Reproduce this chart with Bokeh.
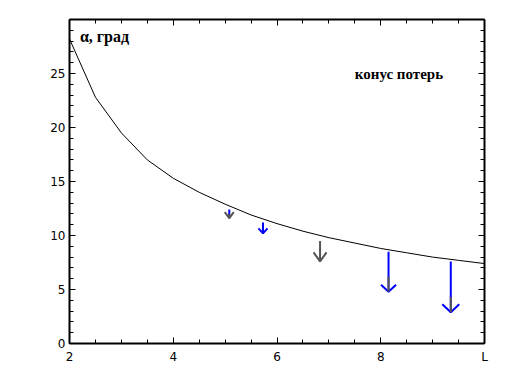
import numpy as np
from bokeh.plotting import figure
from bokeh.models import (ColumnDataSource, LinearAxis, FixedTicker, Range1d, Label)
from bokeh.embed import file_html
from bokeh.resources import INLINE

# Loss-cone curve (L, alpha in degrees)
L_curve = [2.0, 2.5, 3.0, 3.5, 4.0, 4.5, 5.0, 5.5, 6.0, 6.5, 7.0, 7.5, 8.0, 8.5, 9.0, 9.5, 10.0]
alpha_curve = [28.2, 22.8, 19.5, 17.0, 15.3, 14.0, 12.9, 11.9, 11.1, 10.4, 9.8, 9.3, 8.8, 8.4, 8.0, 7.7, 7.4]

# Arrows: L position, start (top) and end (tip) alpha
arrow_L = [5.08, 5.73, 6.83, 8.15, 9.35]
arrow_top = [12.4, 11.2, 9.5, 8.5, 7.6]
arrow_tip = [11.6, 10.2, 7.6, 4.8, 2.9]
# gray overlay on lower part of some arrows
gray_L = [5.08, 8.15, 9.35]
gray_top = [12.0, 6.2, 4.3]
gray_tip = [11.6, 4.8, 2.9]

x_major = [2, 4, 6, 8, 10]
x_minor = list(np.arange(2, 10.01, 0.5))
x_labels = {10: "L"}
y_major = [0, 5, 10, 15, 20, 25]
y_minor = list(range(0, 31))

# styles (not data)
shaft_color = ["#0000ff", "#0000ff", "#555555", "#0000ff", "#0000ff"]
head_color = ["#555555", "#0000ff", "#555555", "#0000ff", "#0000ff"]
head_half_w_px = [4.5, 4.5, 6.5, 7.5, 8.5]
head_h_px = [6, 5, 9, 7, 8]

W, H = 514, 369
X0, X1, Y0, Y1 = 2, 10, 0, 30
p = figure(width=W, height=H, output_backend="svg", toolbar_location=None,
           x_range=Range1d(X0, X1), y_range=Range1d(Y0, Y1),
           min_border_left=69, min_border_right=30, min_border_top=19,
           min_border_bottom=26, x_axis_location=None, y_axis_location=None)
p.xgrid.visible = False
p.ygrid.visible = False
p.outline_line_color = None
p.background_fill_color = "white"
p.border_fill_color = "white"
px_x = (W - 69 - 30) / (X1 - X0)
px_y = (H - 19 - 26) / (Y1 - Y0)

def style(ax):
    ax.axis_line_width = 2
    ax.axis_line_color = "black"
    ax.major_tick_in = 6
    ax.major_tick_out = 0
    ax.minor_tick_in = 4
    ax.minor_tick_out = 0
    ax.major_tick_line_width = 1
    ax.minor_tick_line_width = 1
    ax.major_label_text_font = "DejaVu Sans"
    ax.major_label_text_font_size = "12px"
    ax.major_label_text_color = "black"

xb = LinearAxis(ticker=FixedTicker(ticks=x_major, minor_ticks=x_minor),
                major_label_overrides=x_labels)
style(xb)
xb.major_label_standoff = 6
xa = LinearAxis(ticker=FixedTicker(ticks=x_major, minor_ticks=x_minor),
                major_label_overrides={t: "" for t in x_major})
style(xa)
xa.major_label_standoff = 0
yl = LinearAxis(ticker=FixedTicker(ticks=y_major, minor_ticks=y_minor))
style(yl)
yl.major_label_standoff = 4
yr = LinearAxis(ticker=FixedTicker(ticks=y_major, minor_ticks=y_minor),
                major_label_overrides={t: "" for t in y_major})
style(yr)
yr.major_label_standoff = 0
p.add_layout(xb, "below")
p.add_layout(xa, "above")
p.add_layout(yl, "left")
p.add_layout(yr, "right")

p.line(L_curve, alpha_curve, line_color="black", line_width=1)

# arrow shafts
p.segment(x0=arrow_L, y0=arrow_top, x1=arrow_L, y1=arrow_tip,
          line_color=shaft_color, line_width=2)
# arrow heads (open V)
hx, hy = [], []
for x, y, w, h in zip(arrow_L, arrow_tip, head_half_w_px, head_h_px):
    hx.append([x - w / px_x, x, x + w / px_x])
    hy.append([y + h / px_y, y, y + h / px_y])
p.multi_line(xs=hx, ys=hy, line_color=head_color, line_width=2)
# gray overlay
p.segment(x0=gray_L, y0=gray_top, x1=gray_L, y1=gray_tip, line_color="#555555", line_width=2)

p.add_layout(Label(x=2.2, y=28.4, text="α, град", text_font="Liberation Serif",
                   text_font_style="bold", text_font_size="16px", text_baseline="middle",
                   text_color="black"))
p.add_layout(Label(x=7.5, y=25.0, text="конус потерь", text_font="Liberation Serif",
                   text_font_style="bold", text_font_size="15px", text_baseline="middle",
                   text_color="black"))

open("out.html", "w").write(file_html(p, INLINE))
